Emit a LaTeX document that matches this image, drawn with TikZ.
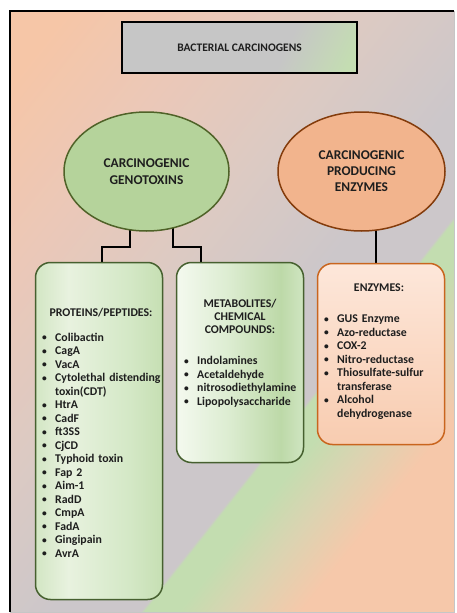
\documentclass[tikz,border=0pt]{standalone}
\usepackage{fontspec}
\usepackage{graphicx}
\setmainfont{Carlito}
\usetikzlibrary{shapes.geometric,backgrounds}

% page background
\definecolor{bgpeach}{HTML}{F6C6A7}
\definecolor{bgpink}{HTML}{EBC8B8}
\definecolor{bgrose}{HTML}{DCCAC3}
\definecolor{bggray}{HTML}{CCC7CA}
\definecolor{bggreen}{HTML}{C3DDB0}
\definecolor{bgyellow}{HTML}{DCD3B1}
\definecolor{bgpeachb}{HTML}{F6C8AA}
% title box
\definecolor{titlegray}{HTML}{C6C6C6}
\definecolor{titlegreen}{HTML}{C4DDB2}
% ellipses
\definecolor{genfill}{HTML}{B5D39B}
\definecolor{genedge}{HTML}{4F6228}
\definecolor{enzfill}{HTML}{F2B48D}
\definecolor{enzedge}{HTML}{843C0C}
% list boxes
\definecolor{greenedge}{HTML}{46602F}
\definecolor{orangeedge}{HTML}{C9651E}
\definecolor{pga}{HTML}{D3E6C4}
\definecolor{pgb}{HTML}{E8F2DF}
\definecolor{pgc}{HTML}{D4E8C6}
\definecolor{pgd}{HTML}{C6DFB3}
\definecolor{mga}{HTML}{F4F9EF}
\definecolor{mgb}{HTML}{DDEDD2}
\definecolor{mgc}{HTML}{BDD9A8}
\definecolor{mgd}{HTML}{CFE5C1}
\definecolor{oga}{HTML}{FDE7DA}
\definecolor{ogb}{HTML}{F8CCB0}
\definecolor{textdark}{HTML}{1E1E1E}

\pgfdeclarehorizontalshading{bgshade}{100bp}{color(0bp)=(bgpeach); color(29bp)=(bgpeach);
  color(37.2bp)=(bgpink); color(45.3bp)=(bgrose); color(53.4bp)=(bggray); color(58.1bp)=(bggray);
  color(58.3bp)=(bggreen); color(60.1bp)=(bggreen); color(63.2bp)=(bgyellow);
  color(66.6bp)=(bgpeachb); color(100bp)=(bgpeachb)}
\pgfdeclarehorizontalshading{titleshade}{100bp}{color(0bp)=(titlegray); color(62bp)=(titlegray);
  color(80bp)=(titlegreen); color(100bp)=(titlegreen)}
\pgfdeclarehorizontalshading{protshade}{100bp}{color(0bp)=(pga); color(25bp)=(pga);
  color(38bp)=(pgb); color(62bp)=(pgc); color(75bp)=(pgd); color(100bp)=(pgd)}
\pgfdeclarehorizontalshading{metashade}{100bp}{color(0bp)=(mga); color(25bp)=(mga);
  color(45bp)=(mgb); color(66bp)=(mgc); color(75bp)=(mgd); color(100bp)=(mgd)}

\newcommand{\itemfnt}{\fontsize{11.8}{13.5}\selectfont\bfseries}
\newcommand{\headfnt}{\fontsize{11.8}{13}\selectfont\bfseries}
\newcommand{\ellfnt}{\fontsize{13.4}{17}\selectfont\bfseries}
\newcommand{\ellfntb}{\fontsize{13.4}{16}\selectfont\bfseries}
% bullet item, and the indented continuation of a wrapped item
\newcommand{\bmark}{\raisebox{0.5pt}{\scalebox{0.8}{\textbullet}}}
\newcommand{\bitem}[1]{\par\noindent\makebox[13pt][l]{\strut\bmark}#1}
\newcommand{\bcont}[1]{\par\noindent\makebox[13pt][l]{\strut}#1}

\begin{document}
\begin{tikzpicture}[x=1pt,y=-1pt,
  conn/.style={draw=black,line width=1.5pt},
  titlebox/.style={rectangle,draw=black,line width=1.8pt,minimum width=235pt,minimum height=51pt,
    inner sep=0pt,font=\fontsize{11.5}{13}\selectfont\bfseries,text=textdark},
  genell/.style={ellipse,draw=genedge,fill=genfill,line width=1.5pt,minimum width=165pt,
    minimum height=119pt,inner sep=0pt,align=center,font=\ellfnt,text=textdark},
  enzell/.style={ellipse,draw=enzedge,fill=enzfill,line width=1.5pt,minimum width=167pt,
    minimum height=119pt,inner sep=0pt,align=center,font=\ellfntb,text=textdark},
  greenbox/.style={rectangle,rounded corners=15pt,draw=greenedge,line width=1.5pt,minimum width=127pt},
  orangebox/.style={rectangle,rounded corners=15pt,draw=orangeedge,line width=1.5pt,minimum width=127pt,
    top color=oga,bottom color=ogb},
  head/.style={font=\headfnt,text=textdark,inner sep=0pt},
  listbox/.style={anchor=north west,text width=130pt,align=left,inner sep=0pt,font=\itemfnt,text=textdark}
]
\useasboundingbox (0,0) rectangle (456,613);

\begin{pgfonlayer}{background}
  \fill[white] (0,0) rectangle (456,613);
  \begin{scope}
    \clip (10,11) rectangle (454,612);
    \begin{scope}[transform canvas={rotate=-38.4}]
      \shade[shading=bgshade] (0,-700) rectangle (740,700);
    \end{scope}
  \end{scope}
  % frame
  \draw[gray!45,line width=0.8pt] (454,11) -- (454,612) -- (10,612);
  \draw[black,line width=1.5pt] (10,612) -- (10,11) -- (454,11);
\end{pgfonlayer}

% title
\node[titlebox,shading=titleshade,shading angle=-25] (title) at (239.5,47.5) {BACTERIAL CARCINOGENS};

% two main groups
\node[genell] (gen) at (146.5,171.5) {CARCINOGENIC\\GENOTOXINS};
\node[enzell] (enz) at (361.5,171.5) {CARCINOGENIC\\PRODUCING\\ENZYMES};

% list boxes
\node[greenbox,shading=protshade,minimum height=337pt] (prot) at (99,431) {};
\node[greenbox,shading=metashade,minimum height=200pt] (meta) at (240,362.5) {};
\node[orangebox,minimum height=181pt] (enzbox) at (381,354) {};

% box headings
\node[head,anchor=base] (prothead) at (101,316.7) {PROTEINS/PEPTIDES:};
\node[head,anchor=north,text width=124pt,align=center] (metahead) at (240,298.6)
  {\strut METABOLITES/\\\strut CHEMICAL\\\strut COMPOUNDS:};
\node[head,anchor=base] (enzhead) at (379,291.7) {ENZYMES:};

% lists
\node[listbox] (protlist) at (42,327.3) {%
  \bitem{Colibactin}\bitem{CagA}\bitem{VacA}%
  \bitem{Cytolethal distending}\bcont{toxin(CDT)}%
  \bitem{HtrA}\bitem{CadF}\bitem{ft3SS}\bitem{CjCD}\bitem{Typhoid toxin}%
  \bitem{Fap 2}\bitem{Aim-1}\bitem{RadD}\bitem{CmpA}\bitem{FadA}%
  \bitem{Gingipain}\bitem{AvrA}};
\node[listbox] (metalist) at (184,351) {%
  \bitem{Indolamines}\bitem{Acetaldehyde}\bitem{nitrosodiethylamine}%
  \bitem{Lipopolysaccharide}};
\node[listbox,text width=118pt] (enzlist) at (324,309) {%
  \bitem{GUS Enzyme}\bitem{Azo-reductase}\bitem{COX-2}\bitem{Nitro-reductase}%
  \bitem{Thiosulfate-sulfur}\bcont{transferase}%
  \bitem{Alcohol}\bcont{dehydrogenase}};

% connectors
\begin{pgfonlayer}{background}
  \coordinate (gl) at (130,247);
  \coordinate (jl) at (102,247);
  \coordinate (gr) at (173,247);
  \coordinate (jr) at (201,247);
  \coordinate (ox) at (376,247);
  \draw[conn] (gen.center -| gl) -- (gl) -- (jl) -- (prot.north -| jl);
  \draw[conn] (gen.center -| gr) -- (gr) -- (jr) -- (meta.north -| jr);
  \draw[conn] (enz.center -| ox) -- (enzbox.north -| ox);
\end{pgfonlayer}
\end{tikzpicture}
\end{document}
